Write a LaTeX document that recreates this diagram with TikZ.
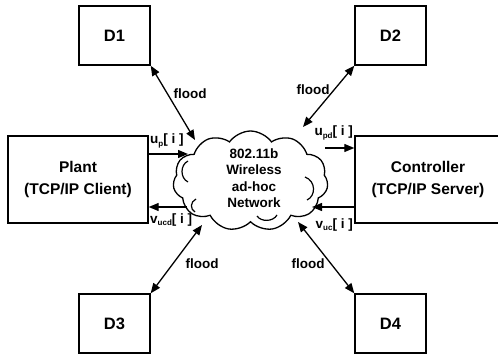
\documentclass[tikz,border=0pt]{standalone}
\usepackage{fontspec}
\setmainfont{Liberation Sans}
\usetikzlibrary{shapes.symbols,arrows.meta}
\newcommand\lbsub[1]{\raisebox{-0.3ex}{\fontsize{8}{8}\selectfont #1}}
\begin{document}
\begin{tikzpicture}[x=1pt,y=-1pt,
  box/.style={draw,line width=1.4pt,inner sep=0pt,font=\fontsize{15.5}{22}\selectfont\bfseries,align=center},
  dbox/.style={draw,line width=1.4pt,minimum width=71pt,minimum height=59pt,inner sep=0pt,font=\fontsize{16.5}{18}\selectfont\bfseries},
  lbl/.style={inner sep=0pt,font=\fontsize{13.5}{16.5}\selectfont\bfseries},
  conn/.style={line width=1.3pt,-{Triangle[length=10pt,width=8pt]}},
  dconn/.style={line width=1.3pt,{Triangle[length=10pt,width=8pt]}-{Triangle[length=10pt,width=8pt]}},
  curl/.style={line width=1.2pt},
]
\useasboundingbox (0,0) rectangle (498,356);
\clip (0,0) rectangle (498,356);
% boxes
\node[dbox] (d1) at (114.5,35.5) {D1};
\node[dbox] (d2) at (390.5,35.5) {D2};
\node[dbox] (d3) at (114.5,323.5) {D3};
\node[dbox] (d4) at (390.5,323.5) {D4};
\node[box,minimum width=140pt,minimum height=87pt] (plant) at (78,179.5) {Plant\\(TCP/IP Client)};
\node[box,minimum width=146pt,minimum height=87pt] (ctrl) at (428,179.5) {Controller\\(TCP/IP Server)};
% cloud
\node[cloud,draw,line width=1.3pt,cloud puffs=11,cloud puff arc=110,minimum width=155pt,minimum height=100pt,inner sep=0pt] (net) at (250.5,181) {};
% inner curls of the cloud
\draw[curl] (188,161) .. controls (180,165) and (180,178) .. (188,182);
\draw[curl] (196,199) .. controls (190,202) and (190,209) .. (195,212);
\draw[curl] (305,177) .. controls (316,181) and (316,196) .. (307,200);
\draw[curl] (257,216) .. controls (261,222) and (273,222) .. (277,215);
\node[lbl,align=center] (nettext) at (254,178) {802.11b\\Wireless\\ad-hoc\\Network};
% connector end points on the cloud
\coordinate (c1) at (195,140);
\coordinate (c2) at (303,127);
\coordinate (c3) at (202,225);
\coordinate (c4) at (298,222);
\coordinate (up) at (188,154);
\coordinate (vucd) at (187,207);
\coordinate (upd) at (325,148);
\coordinate (vuc) at (312,207);
% connectors
\draw[dconn] (d1.south east) -- (c1);
\draw[dconn] (d2.south west) -- (c2);
\draw[dconn] (d3.north east) -- (c3);
\draw[dconn] (d4.north west) -- (c4);
\draw[conn] (plant.east |- up) -- (up);
\draw[conn] (vucd) -- (vucd -| plant.east);
\draw[conn] (upd) -- (upd -| ctrl.west);
\draw[conn] (ctrl.west |- vuc) -- (vuc);
% labels
\node[lbl,anchor=west] (lup) at (150,141) {u\lbsub{p}[ i ]};
\node[lbl,anchor=east] (lupd) at (353,133) {u\lbsub{pd}[ i ]};
\node[lbl,anchor=west] (lvucd) at (150,220) {v\lbsub{ucd}[ i ]};
\node[lbl,anchor=east] (lvuc) at (353,225) {v\lbsub{uc}[ i ]};
\node[lbl] (f1) at (190,94) {flood};
\node[lbl] (f2) at (313,90) {flood};
\node[lbl] (f3) at (202,264) {flood};
\node[lbl] (f4) at (308,264) {flood};
\end{tikzpicture}
\end{document}
